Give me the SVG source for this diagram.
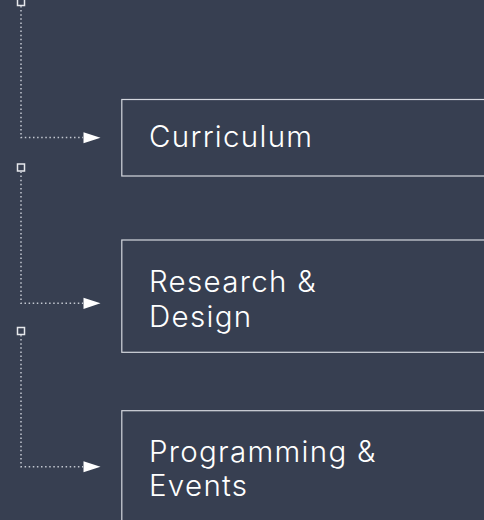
<svg xmlns="http://www.w3.org/2000/svg" width="484" height="520" viewBox="0 0 484 520">
  <defs>
    <style>
      .bg { fill: #373f51; }
      .box { fill: none; stroke: #d4d7de; stroke-width: 1.2; }
      .lbl { font-family: Inter, "Liberation Sans", sans-serif; font-size: 29.5px; font-weight: 300; fill: #ffffff; letter-spacing: 1.3px; }
      .dot { fill: none; stroke: #c3c8d1; stroke-width: 1.5; stroke-dasharray: 1.5 2.6; }
      .start { fill: #373f51; stroke: #e6e8ec; stroke-width: 1.5; }
      .head { fill: #ffffff; }
    </style>
  </defs>
  <rect class="bg" x="0" y="0" width="484" height="520"/>

  <g id="connectors">
    <rect class="start" x="17.5" y="-1.5" width="7" height="7"/>
    <path class="dot" d="M21 6 V137.5 H83"/>
    <polygon class="head" points="83.5,132.2 100.5,137.7 83.5,143.3"/>

    <rect class="start" x="17.5" y="164" width="7" height="7"/>
    <path class="dot" d="M21 171.5 V303.3 H83"/>
    <polygon class="head" points="83.5,297.8 100.5,303.3 83.5,308.9"/>

    <rect class="start" x="17.5" y="327.5" width="7" height="7"/>
    <path class="dot" d="M21 335 V466.7 H83"/>
    <polygon class="head" points="83.5,461.2 100.5,466.7 83.5,472.3"/>
  </g>

  <g id="node-curriculum">
    <rect class="box" x="121.8" y="99.5" width="380" height="76.5"/>
    <text class="lbl" x="149" y="147.3">Curriculum</text>
  </g>

  <g id="node-research-design">
    <rect class="box" x="121.8" y="240" width="380" height="112.3"/>
    <text class="lbl" x="149" y="292.3">Research &amp;</text>
    <text class="lbl" x="149" y="326.7">Design</text>
  </g>

  <g id="node-programming-events">
    <rect class="box" x="121.8" y="410.7" width="380" height="130"/>
    <text class="lbl" x="149" y="461.7">Programming &amp;</text>
    <text class="lbl" x="149" y="495.7">Events</text>
  </g>
</svg>
